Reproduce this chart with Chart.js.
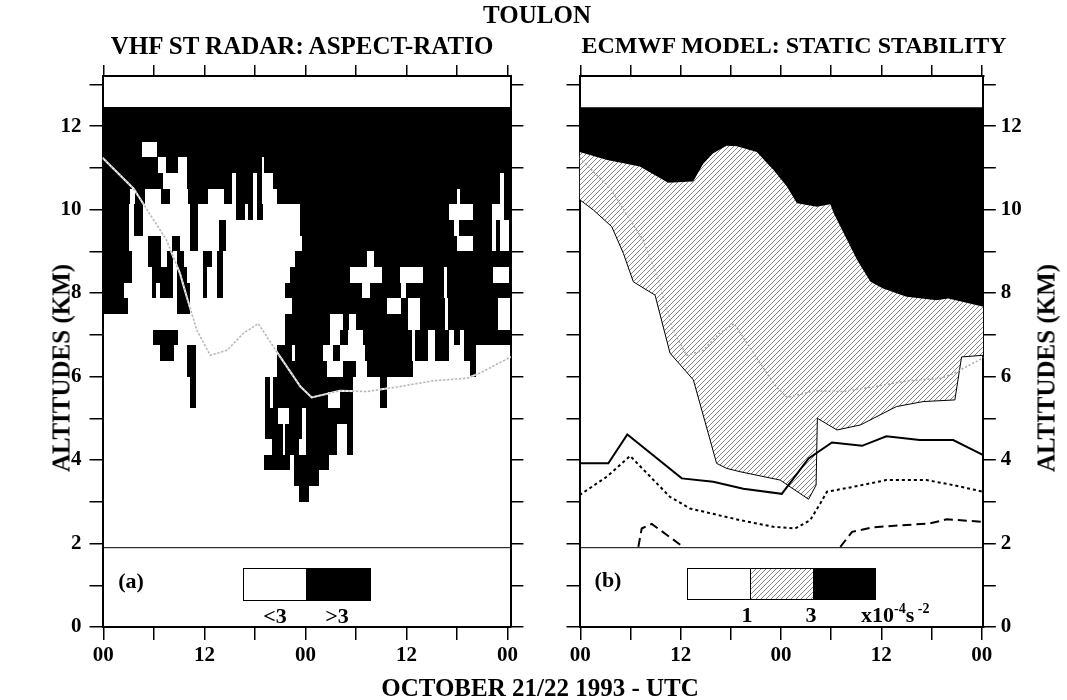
<!DOCTYPE html>
<html>
<head>
<meta charset="utf-8">
<script src="https://cdn.jsdelivr.net/npm/chart.js@4.4.1/dist/chart.umd.min.js"></script>
<style>
  body { margin: 0; background: #fff; }
  #page { position: relative; width: 1067px; height: 700px; overflow: hidden;
          font-family: 'Liberation Serif', 'Times New Roman', serif; font-weight: bold; color: #000; }
  canvas { position: absolute; top: 0; }
  .t { position: absolute; line-height: 1; white-space: nowrap; transform: translate(-50%, -50%); }
  .rot { transform: translate(-50%, -50%) rotate(-90deg); }
  .lft { transform: translate(0, -50%); }
  sup { font-size: 14px; vertical-align: 9px; line-height: 0; }
</style>
</head>
<body>
<div id="page">
  <canvas id="radar" width="540" height="700" style="left:0"></canvas>
  <canvas id="model" width="527" height="700" style="left:540px"></canvas>

  <div class="t" style="left:537px;top:14px;font-size:25px">TOULON</div>
  <div class="t" style="left:302px;top:45px;font-size:25px">VHF ST RADAR: ASPECT-RATIO</div>
  <div class="t" style="left:794px;top:45px;font-size:24px">ECMWF MODEL: STATIC STABILITY</div>
  <div class="t" style="left:540px;top:687px;font-size:25px">OCTOBER 21/22 1993 - UTC</div>
  <div class="t rot" style="left:61px;top:368px;font-size:25px">ALTITUDES (KM)</div>
  <div class="t rot" style="left:1046px;top:368px;font-size:25px">ALTITUDES (KM)</div>

  <div class="t" style="left:131px;top:581px;font-size:22px">(a)</div>
  <div class="t" style="left:275px;top:616px;font-size:22px">&lt;3</div>
  <div class="t" style="left:337px;top:616px;font-size:22px">&gt;3</div>

  <div class="t" style="left:608px;top:580px;font-size:22px">(b)</div>
  <div class="t" style="left:747px;top:615px;font-size:22px">1</div>
  <div class="t" style="left:811px;top:615px;font-size:22px">3</div>
  <div class="t lft" style="left:861px;top:615px;font-size:22px">x10<sup>-4</sup>s<sup>&nbsp;-2</sup></div>
</div>

<script>
// hours from 21 Oct 00 UTC
const hourTicks = [0, 6, 12, 18, 24, 30, 36, 42, 48];
const hourLabels = ['00', '', '12', '', '00', '', '12', '', '00'];
const altTicks = [0, 1, 2, 3, 4, 5, 6, 7, 8, 9, 10, 11, 12, 13];
const altLabels = ['0', '', '2', '', '4', '', '6', '', '8', '', '10', '', '12', ''];

const dataTop = 12.45;
const dividerAlt = 1.9;

// radar range gates (km), bottom to top
const rowEdges = [3.0, 3.375, 3.75, 4.125, 4.5, 4.875, 5.25, 5.625, 6.0, 6.375, 6.75, 7.125,
  7.5, 7.875, 8.25, 8.625, 9.0, 9.375, 9.75, 10.125, 10.5, 10.875, 11.25, 11.625, 12.0, 12.45];

// aspect-ratio > 3 : black runs [t0, t1] in hours, one list per gate (bottom to top)
const blackRuns = [
  [[23.2, 24.4]],
  [[22.6, 25.6]],
  [[19.1, 22.2], [22.7, 26.8]],
  [[20.0, 21.3], [21.6, 23.2], [24.1, 27.7], [28.9, 29.7]],
  [[19.2, 21.3], [21.6, 23.6], [24.1, 27.7], [28.9, 29.7]],
  [[19.2, 20.8], [22.1, 23.6], [24.1, 29.7]],
  [[10.3, 11.0], [19.2, 19.8], [20.2, 26.7], [28.1, 29.7], [32.9, 33.7]],
  [[10.3, 11.0], [19.2, 19.8], [20.2, 29.7], [32.9, 33.7]],
  [[9.9, 11.0], [20.6, 26.6], [28.5, 30.0], [31.3, 36.8], [43.5, 44.3]],
  [[6.7, 8.4], [9.9, 11.0], [20.6, 22.4], [22.8, 26.1], [27.3, 28.1], [31.1, 36.6], [37.0, 38.6], [39.4, 41.0], [42.8, 44.3]],
  [[5.9, 8.9], [21.6, 26.9], [28.1, 29.0], [30.8, 36.6], [37.0, 38.6], [39.4, 41.0], [41.6, 42.4], [42.8, 49]],
  [[21.6, 26.9], [28.5, 29.2], [30.0, 36.2], [37.6, 40.6], [40.9, 46.9], [48.3, 49]],
  [[-1, 2.9], [8.7, 10.3], [22.4, 33.7], [35.4, 36.2], [37.6, 40.6], [40.9, 46.9], [48.3, 49]],
  [[-1, 2.5], [5.75, 6.3], [6.7, 8.3], [8.7, 10.3], [11.8, 12.3], [13.5, 14.2], [21.6, 30.7], [31.7, 35.4], [36.0, 40.5], [40.8, 49]],
  [[-1, 3.4], [5.75, 8.3], [8.7, 9.9], [11.8, 12.3], [13.5, 14.2], [22.2, 29.3], [33.1, 35.2], [38.0, 40.5], [40.8, 46.3], [48.2, 49]],
  [[-1, 3.4], [5.3, 6.9], [7.6, 8.3], [8.7, 9.6], [11.8, 12.9], [13.5, 14.2], [22.8, 31.3], [32.1, 49]],
  [[-1, 3.0], [5.35, 6.9], [8.1, 9.1], [10.3, 11.3], [13.7, 14.6], [23.6, 42.0], [43.9, 46.2], [46.6, 47.1], [48.2, 49]],
  [[-1, 3.0], [3.6, 4.75], [10.3, 11.3], [13.7, 14.6], [23.4, 41.6], [42.2, 46.2], [46.6, 47.1], [48.2, 49]],
  [[-1, 3.0], [3.6, 4.75], [10.3, 11.3], [15.8, 16.8], [17.2, 17.8], [18.2, 19.0], [23.4, 41.0], [43.9, 46.2], [47.6, 49]],
  [[-1, 3.2], [3.8, 5.0], [6.9, 7.9], [10.0, 12.4], [14.3, 15.3], [15.8, 17.8], [18.2, 18.9], [20.6, 42.0], [42.4, 47.1], [47.6, 49]],
  [[-1, 7.1], [9.9, 15.3], [15.7, 17.8], [18.2, 18.9], [20.2, 47.1], [47.6, 49]],
  [[-1, 6.5], [7.4, 8.9], [9.9, 18.8], [19.1, 49]],
  [[-1, 4.6], [6.4, 49]],
  [[-1, 49]],
  [[-1, 49]]
];

// tropopause-like line, same on both panels
const tropoT = [-0.1, 3.6, 5.5, 7.5, 9.1, 9.9, 11.1, 12.7, 14.7, 16.6, 18.4, 20.6, 23.4, 24.75, 28.1, 31.3, 35.2, 39.2, 43.2, 44.7, 48.4];
const tropoAlt = [11.24, 10.5, 9.9, 9.27, 8.47, 7.91, 7.11, 6.51, 6.63, 7.03, 7.27, 6.59, 5.76, 5.5, 5.66, 5.64, 5.76, 5.9, 5.96, 6.08, 6.47];

// ECMWF static stability contours
const c3T = [-0.1, 3.2, 7.1, 10.5, 13.5, 14.7, 15.9, 17.5, 18.7, 21.1, 23.1, 24.7, 25.9, 28.3, 29.9, 30.3, 33.1, 34.7, 36.2, 39.0, 42.6, 44.0, 48.2];
const c3Alt = [11.38, 11.19, 11.03, 10.64, 10.67, 11.1, 11.35, 11.53, 11.52, 11.38, 10.95, 10.55, 10.15, 10.07, 10.13, 9.91, 8.79, 8.27, 8.11, 7.91, 7.83, 7.87, 7.67];
const c1T = [-0.1, 1.56, 3.76, 5.15, 6.34, 8.94, 10.73, 13.52, 16.3, 17.5, 19.1, 23.9, 27.3, 28.2, 28.35, 30.7, 33.5, 37.8, 41.0, 44.8, 45.6, 48.2];
const c1Alt = [10.24, 9.99, 9.59, 8.95, 8.27, 7.95, 6.56, 5.92, 3.92, 3.8, 3.72, 3.52, 3.06, 3.4, 5.0, 4.72, 4.84, 5.28, 5.4, 5.44, 6.47, 6.51];
const solidT = [-0.1, 3.35, 5.62, 12.13, 15.9, 19.5, 24.1, 27.3, 30.1, 33.7, 36.6, 40.6, 44.6, 48.2];
const solidAlt = [3.92, 3.92, 4.61, 3.56, 3.48, 3.31, 3.19, 4.04, 4.42, 4.34, 4.57, 4.48, 4.48, 4.12];
const shortT = [-0.1, 3.16, 5.95, 10.7, 13.1, 19.1, 23.1, 25.7, 27.5, 28.7, 29.5, 32.7, 36.6, 41.4, 44.6, 48.2];
const shortAlt = [3.16, 3.6, 4.1, 3.12, 2.84, 2.56, 2.4, 2.36, 2.56, 2.96, 3.24, 3.36, 3.52, 3.52, 3.4, 3.24];
const longAT = [6.94, 7.34, 8.54, 12.3];
const longAAlt = [1.92, 2.36, 2.47, 1.92];
const longBT = [31.1, 32.5, 35.0, 41.8, 43.8, 48.2];
const longBAlt = [1.92, 2.28, 2.39, 2.48, 2.58, 2.52];

const SERIF = "'Liberation Serif', 'Times New Roman', serif";
Chart.defaults.font.family = SERIF;
Chart.defaults.color = '#000';

const pts = (ts, as) => ts.map((t, i) => ({ x: t, y: as[i] }));

function makeHatch() {
  const c = document.createElement('canvas');
  c.width = 5; c.height = 5;
  const g = c.getContext('2d');
  g.fillStyle = '#fff';
  g.fillRect(0, 0, 5, 5);
  g.strokeStyle = '#333';
  g.lineWidth = 0.6;
  g.beginPath();
  g.moveTo(0, 5); g.lineTo(5, 0);
  g.moveTo(-1, 1); g.lineTo(1, -1);
  g.moveTo(4, 6); g.lineTo(6, 4);
  g.stroke();
  return g.createPattern(c, 'repeat');
}
const hatch = makeHatch();

function makeScales(xMax, leftW, rightW, labelsRight) {
  const tickFont = { family: SERIF, size: 21, weight: 'bold' };
  const grid = len => ({ drawOnChartArea: false, drawTicks: true, tickLength: len, color: '#000', lineWidth: 1.5 });
  const border = { display: true, color: '#000', width: 2 };
  const hourSet = s => { s.ticks = hourTicks.map(v => ({ value: v })); };
  const altSet = s => { s.ticks = altTicks.map(v => ({ value: v })); };
  const blank = () => '';
  const altLabel = v => altLabels[altTicks.indexOf(v)] || '';
  return {
    x: {
      type: 'linear', axis: 'x', position: 'bottom', min: -0.1, max: xMax, bounds: 'data',
      afterBuildTicks: hourSet,
      ticks: { callback: v => hourLabels[hourTicks.indexOf(v)] || '', font: tickFont, color: '#000', padding: 3, maxRotation: 0, autoSkip: false },
      grid: grid(13), border,
      afterFit: s => { s.height = 73; }
    },
    xTop: {
      type: 'linear', axis: 'x', position: 'top', min: -0.1, max: xMax, bounds: 'data',
      afterBuildTicks: hourSet,
      ticks: { callback: blank, font: tickFont, padding: 0, maxRotation: 0, autoSkip: false },
      grid: grid(11), border,
      afterFit: s => { s.height = 76; }
    },
    yL: {
      type: 'linear', axis: 'y', position: 'left', min: 0, max: 13.2, bounds: 'data',
      afterBuildTicks: altSet,
      ticks: { callback: labelsRight ? blank : altLabel, font: tickFont, color: '#000', padding: 8, autoSkip: false },
      grid: grid(13), border,
      afterFit: s => { s.width = leftW; }
    },
    yR: {
      type: 'linear', axis: 'y', position: 'right', min: 0, max: 13.2, bounds: 'data',
      afterBuildTicks: altSet,
      ticks: { callback: labelsRight ? altLabel : blank, font: tickFont, color: '#000', padding: 5, autoSkip: false },
      grid: grid(12.5), border,
      afterFit: s => { s.width = rightW; }
    }
  };
}

function line(points, opts) {
  return Object.assign({
    data: points, xAxisID: 'x', yAxisID: 'yL', pointRadius: 0, tension: 0,
    borderColor: '#000', borderWidth: 1.5, fill: false
  }, opts);
}

const baseOptions = {
  responsive: false, animation: false, events: [],
  layout: { padding: 0 },
  plugins: { legend: { display: false }, tooltip: { enabled: false } }
};

// legend boxes drawn through the scales
function boxPlugin(id, edges, alts, fills) {
  return {
    id,
    afterDatasetsDraw(chart) {
      const { ctx, scales: { x, yL } } = chart;
      const yTop = Math.round(yL.getPixelForValue(alts[1])) + 0.5;
      const yBot = Math.round(yL.getPixelForValue(alts[0])) + 0.5;
      ctx.save();
      ctx.lineWidth = 1;
      ctx.strokeStyle = '#000';
      for (let i = 0; i < fills.length; i++) {
        const x0 = Math.round(x.getPixelForValue(edges[i])) + 0.5;
        const x1 = Math.round(x.getPixelForValue(edges[i + 1])) + 0.5;
        ctx.fillStyle = fills[i];
        ctx.fillRect(x0, yTop, x1 - x0, yBot - yTop);
        ctx.strokeRect(x0, yTop, x1 - x0, yBot - yTop);
      }
      ctx.restore();
    }
  };
}

const radarCells = {
  id: 'radarCells',
  beforeDatasetsDraw(chart) {
    const { ctx, chartArea: a, scales: { x, yL } } = chart;
    ctx.save();
    ctx.beginPath();
    ctx.rect(a.left, a.top, a.width, a.height);
    ctx.clip();
    ctx.fillStyle = '#000';
    blackRuns.forEach((runs, k) => {
      const y0 = Math.round(yL.getPixelForValue(rowEdges[k]));
      const y1 = Math.round(yL.getPixelForValue(rowEdges[k + 1]));
      runs.forEach(([t0, t1]) => {
        const x0 = Math.round(x.getPixelForValue(t0));
        const x1 = Math.round(x.getPixelForValue(t1));
        ctx.fillRect(x0, y1, x1 - x0, y0 - y1);
      });
    });
    ctx.restore();
  }
};

// (a) radar panel
new Chart(document.getElementById('radar'), {
  type: 'line',
  data: {
    datasets: [
      line(pts([-1, 49], [dividerAlt, dividerAlt]), { borderWidth: 1, order: 1 }),
      line(pts(tropoT, tropoAlt), { borderColor: '#b4b4b4', borderWidth: 1.5, borderDash: [2, 2], order: 2 }),
      line(pts(tropoT, tropoAlt), { borderColor: '#f4f4f4', borderWidth: 2, order: 3 })
    ]
  },
  options: Object.assign({}, baseOptions, { scales: makeScales(48.4, 102.5, 29.1, false) }),
  plugins: [radarCells, boxPlugin('legendA', [16.56, 24.04, 31.67], [0.65, 1.41], ['#fff', '#000'])]
});

// (b) model panel
new Chart(document.getElementById('model'), {
  type: 'line',
  data: {
    datasets: [
      line(pts([-1, 49], [dataTop, dataTop]), { borderWidth: 0, order: 20 }),
      line(pts(c3T, c3Alt), { borderWidth: 1, fill: '-1', backgroundColor: '#000', order: 19 }),
      line(pts(c1T, c1Alt), { borderWidth: 1, fill: '-1', backgroundColor: hatch, order: 18 }),
      line(pts(solidT, solidAlt), { borderWidth: 2, order: 6 }),
      line(pts(shortT, shortAlt), { borderWidth: 2, borderDash: [3, 3], order: 6 }),
      line(pts(longAT, longAAlt), { borderWidth: 2, borderDash: [9, 5], order: 6 }),
      line(pts(longBT, longBAlt), { borderWidth: 2, borderDash: [9, 5], order: 6 }),
      line(pts(tropoT, tropoAlt), { borderColor: '#a8a8a8', borderWidth: 1.5, borderDash: [2, 2], order: 4 }),
      line(pts([-1, 49], [dividerAlt, dividerAlt]), { borderWidth: 1, order: 1 })
    ]
  },
  options: Object.assign({}, baseOptions, { scales: makeScales(48.2, 39.5, 83.7, true) }),
  plugins: [boxPlugin('legendB', [12.8, 20.3, 27.8, 35.3], [0.66, 1.41], ['#fff', hatch, '#000'])]
});
</script>
</body>
</html>
